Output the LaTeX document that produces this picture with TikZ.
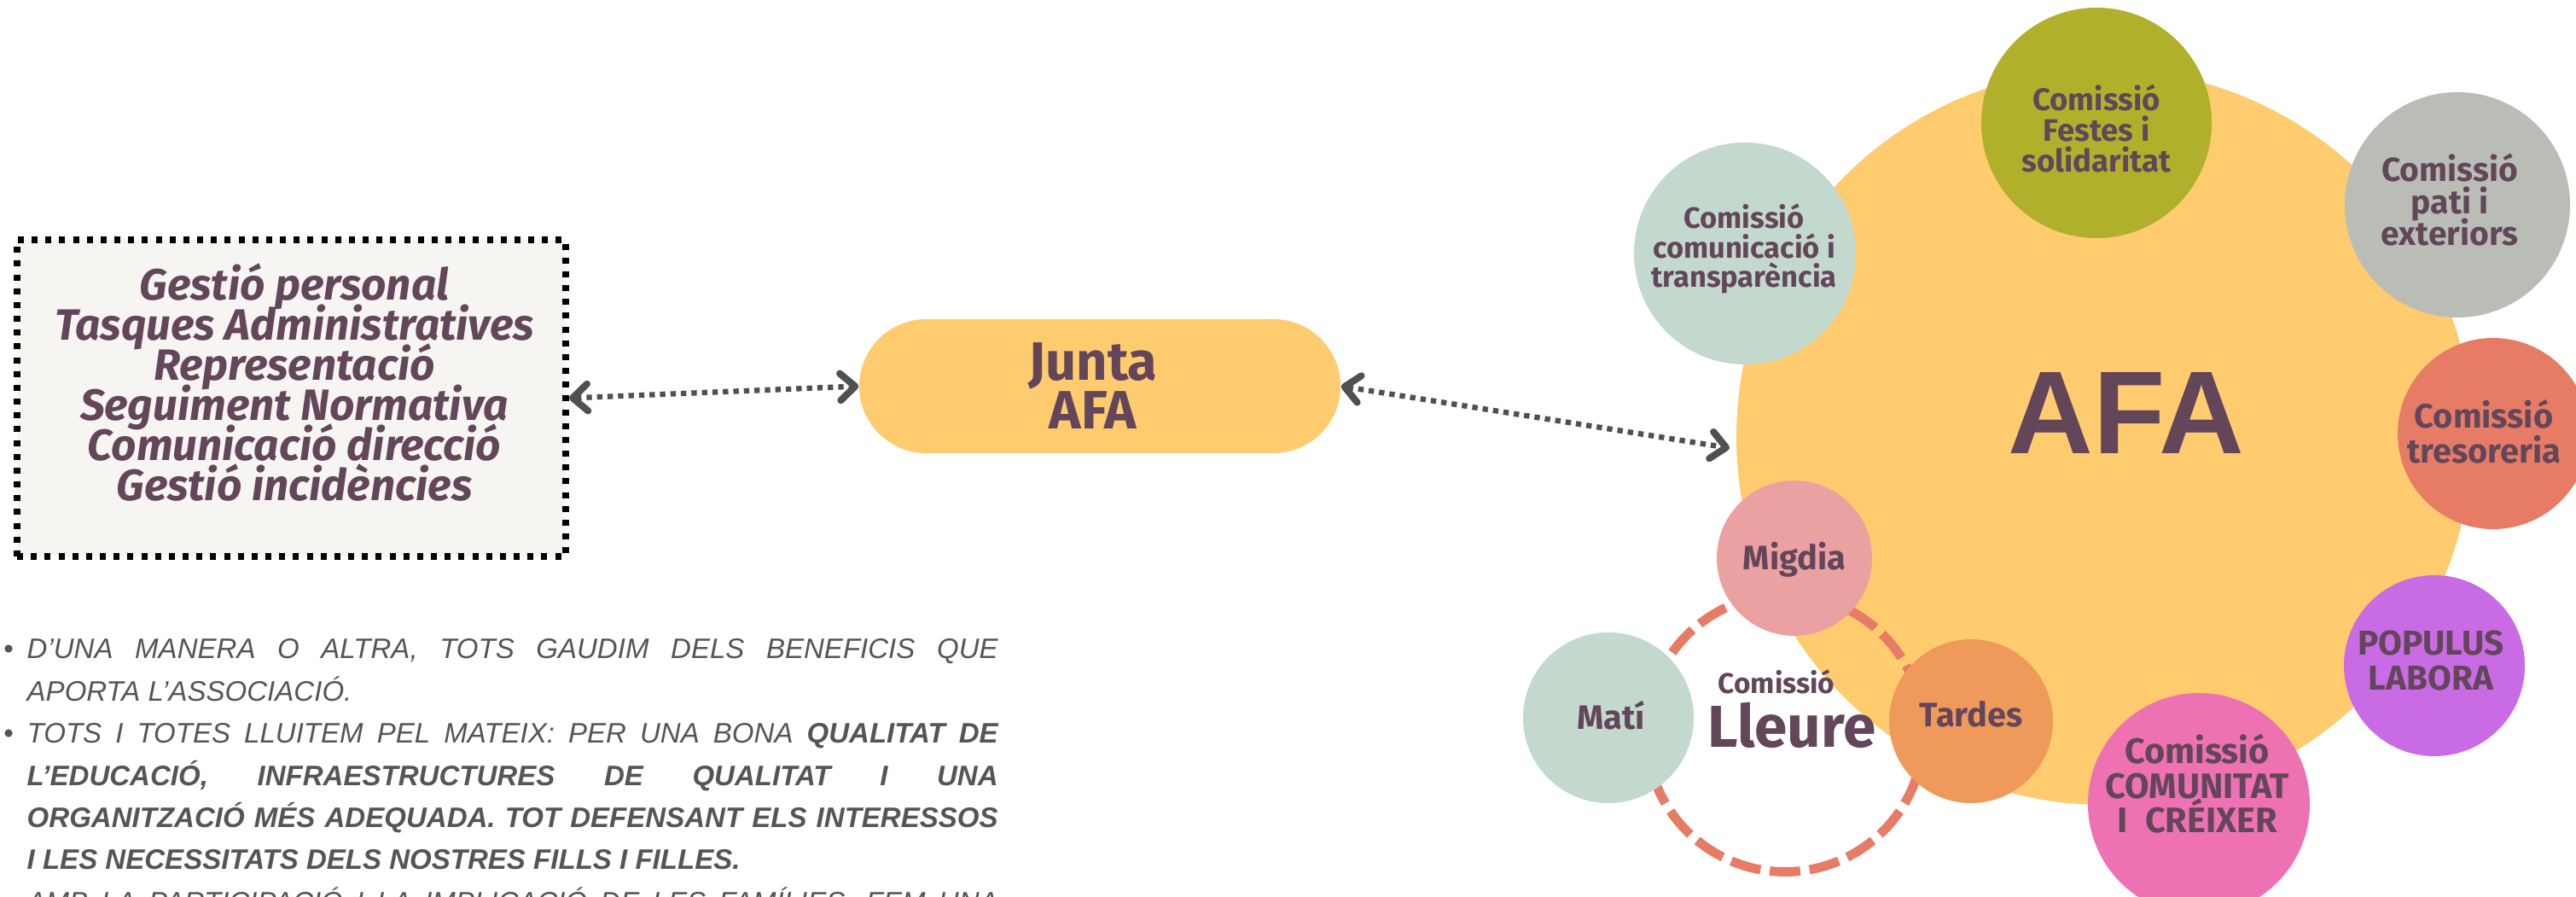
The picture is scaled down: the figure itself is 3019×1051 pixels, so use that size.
\documentclass[tikz,border=0pt]{standalone}
\usepackage{fontspec}
\setmainfont{Fira Sans}
\newfontfamily\bodyfont{Liberation Sans}
\usetikzlibrary{arrows.meta}
\definecolor{txtc}{HTML}{63465A}
\definecolor{afay}{HTML}{FECB6E}
\definecolor{sage}{HTML}{C3D9CD}
\definecolor{olivec}{HTML}{B1B02B}
\definecolor{greyc}{HTML}{B9BDB6}
\definecolor{coralc}{HTML}{E67C66}
\definecolor{violetc}{HTML}{C96BE4}
\definecolor{pinkc}{HTML}{EE72B3}
\definecolor{rosec}{HTML}{EBA0A1}
\definecolor{orangec}{HTML}{EF9A5A}
\definecolor{arrowc}{HTML}{505050}
\definecolor{bodyc}{HTML}{555555}
\definecolor{boxfill}{HTML}{F6F5F2}
\newcommand\ctext[2]{\parbox[t]{#1}{\centering\lineskiplimit=-100pt\relax #2}}
\newcommand\bul{\llap{\textbullet\hspace{1.6mm}}}
\begin{document}
\begin{tikzpicture}[x=0.1mm,y=-0.1mm,
  disc/.style={circle, inner sep=0pt, draw=none, minimum size=#1},
  lbl/.style={anchor=base, inner sep=0pt, text=txtc},
  >={Straight Barb[length=5pt,width=9pt,line width=2.3pt,round]},
  dotlink/.style={draw=arrowc, line width=1.8pt, dash pattern=on 1.8pt off 1.7pt, <->}
]
\useasboundingbox (0,0) rectangle (3019,1051);
\clip (0,0) rectangle (3019,1051);
\fill[white] (0,0) rectangle (3019,1051);

% left box
\node[draw=black, fill=boxfill, line width=2.3pt, dash pattern=on 2pt off 2.6pt,
      minimum width=64.3mm, minimum height=37.1mm, inner sep=0pt] (box) at (341.5,466.5) {};
\node[lbl, font=\fontsize{14.6}{13.37}\selectfont\bfseries\itshape] (boxtext) at (345,352)
  {\ctext{62mm}{Gestió personal\\Tasques Administratives\\Representació\\Seguiment Normativa\\Comunicació direcció\\Gestió incidències}};

% Junta
\node[fill=afay, rounded corners=7.85mm, minimum width=56.4mm, minimum height=15.7mm, inner sep=0pt] (junta) at (1289,452.5) {};
\node[lbl, font=\fontsize{18}{16.2}\selectfont\bfseries] (juntat) at (1281,446) {\ctext{40mm}{Junta\\AFA}};

% big AFA circle and Lleure ring
\node[disc=86.2mm, fill=afay] (afa) at (2466,512) {};
\node[circle, inner sep=0pt, minimum size=32.5mm, draw=coralc, line width=3.1pt, dash pattern=on 10.2pt off 3.1pt] (ring) at (2092,859) {};

% arrows
\coordinate (afain) at (2027,525);
\draw[dotlink] (box.east) -- (junta.west);
\draw[dotlink] (junta.east) -- (afain);

% satellite circles
\node[disc=26mm, fill=sage] (comun) at (2045,297) {};
\node[disc=27mm, fill=olivec] (festes) at (2457,144) {};
\node[disc=26.4mm, fill=greyc] (pati) at (2880,240) {};
\node[disc=22.4mm, fill=coralc] (treso) at (2922,508) {};
\node[disc=21.2mm, fill=violetc] (populus) at (2853,780) {};
\node[disc=26mm, fill=pinkc] (comunitat) at (2577,942) {};
\node[disc=18.2mm, fill=rosec] (migdia) at (2103,654) {};
\node[disc=20mm, fill=sage] (mati) at (1885,841) {};
\node[disc=19.2mm, fill=orangec] (tardes) at (2310,845) {};

% labels
\node[lbl, font=\bodyfont\fontsize{39.3}{40}\selectfont\bfseries] (afat) at (2492,532) {AFA};
\node[lbl, font=\fontsize{9.8}{9.7}\selectfont\bfseries] (comunt) at (2044,268) {\ctext{30mm}{Comissió\\comunicació i\\transparència}};
\node[lbl, font=\fontsize{10.4}{10.2}\selectfont\bfseries] (festest) at (2457,130) {\ctext{30mm}{Comissió\\Festes i\\solidaritat}};
\node[lbl, font=\fontsize{11.1}{10.6}\selectfont\bfseries] (patit) at (2871,213) {\ctext{30mm}{Comissió\\pati i\\exteriors}};
\node[lbl, font=\fontsize{11.3}{11.4}\selectfont\bfseries] (tresot) at (2911,502) {\ctext{30mm}{Comissió\\tresoreria}};
\node[lbl, font=\fontsize{11.5}{11.4}\selectfont\bfseries] (populust) at (2849,768) {\ctext{30mm}{POPULUS\\LABORA}};
\node[lbl, font=\fontsize{11.8}{11.4}\selectfont\bfseries] (comunitatt) at (2575,895) {\ctext{30mm}{Comissió\\COMUNITAT\\I\enspace CRÉIXER}};
\node[lbl, font=\fontsize{11.3}{11.3}\selectfont\bfseries] (migdiat) at (2103,668) {Migdia};
\node[lbl, font=\fontsize{11.3}{11.3}\selectfont\bfseries] (tardest) at (2310,852) {Tardes};
\node[lbl, font=\fontsize{11.3}{11.3}\selectfont\bfseries] (matit) at (1888,855) {Matí};
\node[lbl, font=\fontsize{9.5}{9.5}\selectfont\bfseries] (lleurec) at (2082,813) {Comissió};
\node[lbl, font=\fontsize{19.7}{19.7}\selectfont\bfseries] (lleuret) at (2100,876) {Lleure};

% bottom text
\node[anchor=base west, inner sep=0pt, text=bodyc, font=\bodyfont\fontsize{9.4}{14.05}\selectfont\itshape] (body) at (31,772)
{\parbox[t]{113.8mm}{\lineskiplimit=-100pt\relax
\makebox[\linewidth][s]{\bul D’UNA MANERA O ALTRA, TOTS GAUDIM DELS BENEFICIS QUE}\par
APORTA L’ASSOCIACIÓ.\par
\makebox[\linewidth][s]{\bul TOTS I TOTES LLUITEM PEL MATEIX: PER UNA BONA \textbf{QUALITAT DE}}\par
\makebox[\linewidth][s]{\textbf{L’EDUCACIÓ, INFRAESTRUCTURES DE QUALITAT I UNA}}\par
\makebox[\linewidth][s]{\textbf{ORGANITZACIÓ MÉS ADEQUADA. TOT DEFENSANT ELS INTERESSOS}}\par
\textbf{I LES NECESSITATS DELS NOSTRES FILLS I FILLES.}\par
\makebox[\linewidth][s]{\bul AMB LA PARTICIPACIÓ I LA IMPLICACIÓ DE LES FAMÍLIES, FEM UNA}\par
}};
\end{tikzpicture}
\end{document}
